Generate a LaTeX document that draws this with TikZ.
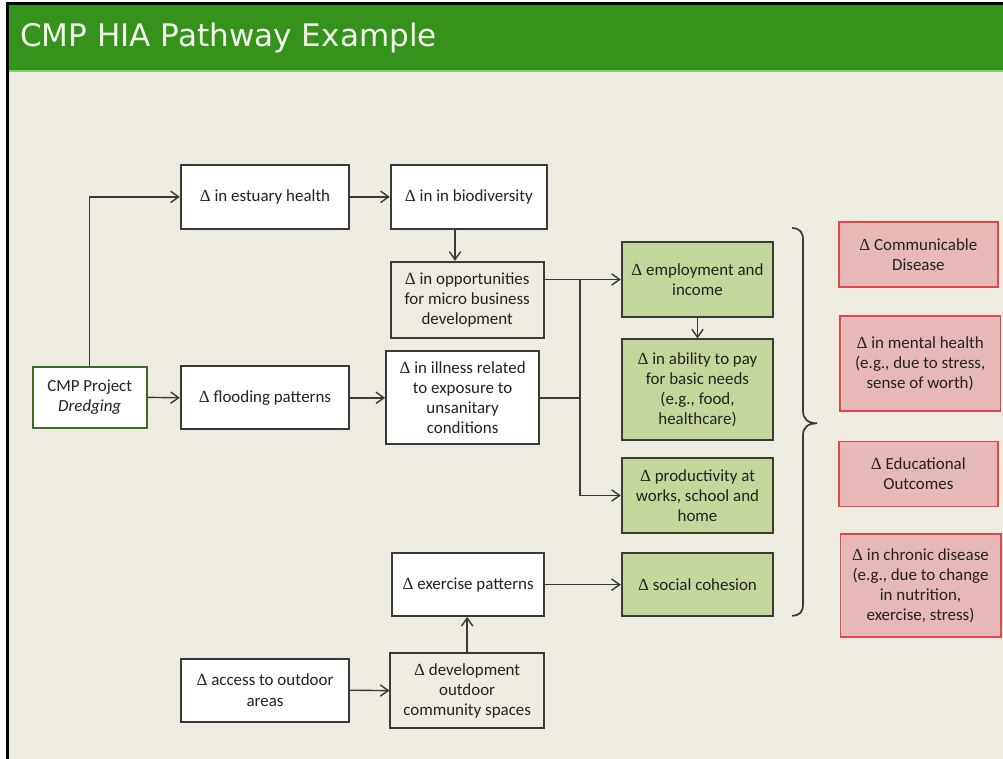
\documentclass[tikz,border=0pt]{standalone}
\usepackage{fontspec}
\setmainfont{Carlito}
\newfontfamily\titlefont{DejaVu Sans}
\newfontfamily\symf{Liberation Serif}
\usetikzlibrary{arrows.meta}
\definecolor{bgc}{HTML}{EEEBE0}
\definecolor{barc}{HTML}{35931B}
\definecolor{barline}{HTML}{8CC874}
\definecolor{edgec}{HTML}{3A3A3A}
\definecolor{greenf}{HTML}{C4D79B}
\definecolor{pinkf}{HTML}{E6B9B8}
\definecolor{pinkd}{HTML}{E84646}
\definecolor{cmpd}{HTML}{3E6B22}
\definecolor{txtc}{HTML}{222222}
\definecolor{titlec}{HTML}{F2F7EC}
\newcommand\D{{\symf Δ}}
\newcommand\bx[7]{\node[#2, minimum width={(#5-#3)*0.75pt}, minimum height={(#6-#4)*0.75pt}] (#1) at ({(#3+#5)/2},{(#4+#6)/2}) {#7};}
\tikzset{
  base/.style={draw=edgec, line width=1.3pt, align=center, inner sep=1pt, text=txtc,
    font=\fontsize{12.7}{15.1}\selectfont},
  wbox/.style={base, fill=white},
  cbox/.style={base, fill=bgc},
  gbox/.style={base, fill=greenf},
  pbox/.style={base, fill=pinkf, draw=pinkd, line width=1.2pt},
  cmpbox/.style={base, fill=white, draw=cmpd, line width=1.5pt},
  arr/.style={draw=edgec, line width=1.05pt, -{Straight Barb[length=6pt,width=8.5pt,line width=1.05pt]}},
  ln/.style={draw=edgec, line width=1.05pt},
}
\begin{document}
\begin{tikzpicture}[x=0.75pt,y=-0.75pt]
\useasboundingbox (0,0) rectangle (1003,759);
\fill[white] (0,0) rectangle (1003,759);
\fill[bgc] (8,5) rectangle (1003,759);
\fill[barc] (8,5) rectangle (1003,70);
\fill[barline] (8,70) rectangle (1003,72);
\fill[black] (6,2) rectangle (1003,5);
\fill[black] (6,2) rectangle (9,759);
\node[anchor=base west, inner sep=0pt, text=titlec, font=\titlefont\fontsize{23.3}{27}\selectfont] (title) at (20,46.5) {CMP HIA Pathway Example};

\bx{cmp}{cmpbox}{32.7}{367}{146.7}{427.7}{CMP Project\\\textit{Dredging}}
\bx{est}{wbox}{180.7}{165}{349.3}{228.7}{\D\ in estuary health}
\bx{bio}{wbox}{390.7}{165}{547}{228.7}{\D\ in in biodiversity}
\bx{opp}{cbox}{390.7}{261.7}{543.7}{337.7}{\D\ in opportunities\\for micro business\\development}
\bx{flood}{wbox}{180.7}{366.3}{349.3}{429.3}{\D\ flooding patterns}
\bx{ill}{wbox}{386}{351.3}{539.3}{444.3}{\D\ in illness related\\to exposure to\\unsanitary\\conditions}
\bx{emp}{gbox}{621.7}{241.7}{773.3}{317.3}{\D\ employment and\\income}
\bx{abl}{gbox}{621.7}{339.3}{773.3}{440.3}{\D\ in ability to pay\\for basic needs\\(e.g., food,\\healthcare)}
\bx{prod}{gbox}{621.7}{457.7}{773.3}{533.3}{\D\ productivity at\\works, school and\\home}
\bx{soc}{gbox}{621.7}{553.3}{773.3}{616}{\D\ social cohesion}
\bx{ex}{wbox}{392.3}{553.3}{544}{616}{\D\ exercise patterns}
\bx{acc}{wbox}{180.7}{658.7}{349.3}{721.7}{\D\ access to outdoor\\areas}
\bx{dev}{cbox}{390.3}{653}{544}{728.3}{\D\ development\\outdoor\\community spaces}

\bx{comm}{pbox}{839}{222}{997.7}{287.3}{\D\ Communicable\\Disease}
\bx{ment}{pbox}{840}{316}{1000.3}{411}{\D\ in mental health\\(e.g., due to stress,\\sense of worth)}
\bx{edu}{pbox}{839}{441.5}{997.7}{506.5}{\D\ Educational\\Outcomes}
\bx{chr}{pbox}{840.3}{534}{1000.7}{637}{\D\ in chronic disease\\(e.g., due to change\\in nutrition,\\exercise, stress)}

\coordinate (bx) at (455,0);
\coordinate (jx) at (580,0);

\draw[arr] (cmp.north) |- (est.west);
\draw[arr] (cmp.east) -- (flood.west);
\draw[arr] (est.east) -- (bio.west);
\draw[arr] (bio.south -| bx) -- (opp.north -| bx);
\draw[arr] (flood.east) -- (ill.west);
\draw[arr] (opp.east |- emp.west) -- (emp.west);
\draw[ln] (ill.east) -- (ill.east -| jx);
\draw[arr] (jx |- emp.west) |- (prod.west);
\draw[arr] (emp.south) -- (abl.north);
\draw[arr] (ex.east) -- (soc.west);
\draw[arr] (dev.north) -- (dev.north |- ex.south);
\draw[arr] (acc.east) -- (dev.west);

\draw[draw=edgec, line width=1.3pt] (792,228) .. controls (800,228.5) and (803,232) .. (803,240)
  -- (803,411) .. controls (803,419) and (808,423.3) .. (817,423.3)
  .. controls (808,423.3) and (803,427.5) .. (803,435)
  -- (803,604) .. controls (803,612) and (800,615.5) .. (792,615.7);
\end{tikzpicture}
\end{document}
